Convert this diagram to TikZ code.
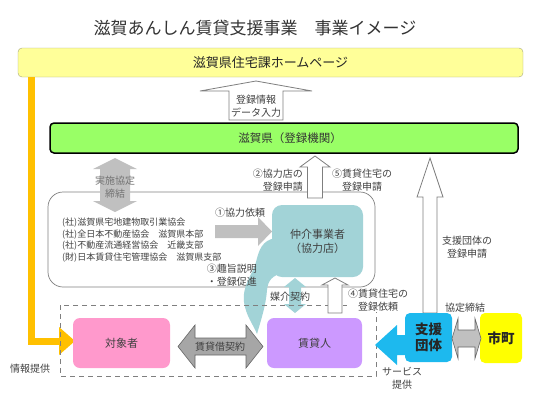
\documentclass[tikz,border=0pt]{standalone}
\usepackage{fontspec}
\setmainfont{Noto Sans CJK JP}
\definecolor{hpyellow}{HTML}{FFFF99}
\definecolor{hpborder}{HTML}{A6A67A}
\definecolor{infoorange}{HTML}{FFC000}
\definecolor{prefgreen}{HTML}{99FF66}
\definecolor{tealbox}{HTML}{A2D3D7}
\definecolor{pinkbox}{HTML}{FF99CC}
\definecolor{purplebox}{HTML}{CC99FF}
\definecolor{cyanbox}{HTML}{1DB9EE}
\definecolor{citybox}{HTML}{FFFF00}
\definecolor{txt}{HTML}{404040}
\definecolor{arrowgray}{HTML}{C0C0C0}
\definecolor{darkarrowgray}{HTML}{A6A6A6}
\definecolor{outlinegray}{HTML}{7F7F7F}
% #1 style, #2 cx, #3 ybottom, #4 ytip, #5 shaft half, #6 head half, #7 head length
\newcommand\myUpArrow[7]{%
  \path[#1] ({#2-#5},#3) -- ({#2-#5},{#4+#7}) -- ({#2-#6},{#4+#7}) -- (#2,#4)
    -- ({#2+#6},{#4+#7}) -- ({#2+#5},{#4+#7}) -- ({#2+#5},#3) -- cycle;}
% #1 style, #2 cx, #3 ytop, #4 ybottom, #5 shaft half, #6 head half, #7 head length
\newcommand\myVDouble[7]{%
  \path[#1] (#2,#3) -- ({#2+#6},{#3+#7}) -- ({#2+#5},{#3+#7}) -- ({#2+#5},{#4-#7})
    -- ({#2+#6},{#4-#7}) -- (#2,#4) -- ({#2-#6},{#4-#7}) -- ({#2-#5},{#4-#7})
    -- ({#2-#5},{#3+#7}) -- ({#2-#6},{#3+#7}) -- cycle;}
% #1 style, #2 cy, #3 xleft, #4 xright, #5 shaft half, #6 head half, #7 head length
\newcommand\myHDouble[7]{%
  \path[#1] (#3,#2) -- ({#3+#7},{#2-#6}) -- ({#3+#7},{#2-#5}) -- ({#4-#7},{#2-#5})
    -- ({#4-#7},{#2-#6}) -- (#4,#2) -- ({#4-#7},{#2+#6}) -- ({#4-#7},{#2+#5})
    -- ({#3+#7},{#2+#5}) -- ({#3+#7},{#2+#6}) -- cycle;}
\begin{document}
\begin{tikzpicture}[x=1pt,y=-1pt,
  every node/.style={text=txt, inner sep=0pt},
  lbl/.style={font=\fontsize{10}{12.5}\selectfont, align=center},
  hollow/.style={draw=outlinegray, fill=white, line width=0.8pt},
  boxstyle/.style={rounded corners=7pt, font=\fontsize{11}{13}\selectfont}]
\useasboundingbox (0,0) rectangle (533,400);

% title
\node[font=\fontsize{17}{20}\selectfont, text=black!80] (title) at (255,28)
  {滋賀あんしん賃貸支援事業　事業イメージ};

% homepage bar
\node[draw=hpborder, fill=hpyellow, rounded corners=4pt, minimum width=505pt,
  minimum height=29pt, font=\fontsize{13}{15}\selectfont, text=black!85]
  (hp) at (270.5,62.5) {滋賀県住宅課ホームページ};

% orange information line
\coordinate (infoStart) at (31,77);
\coordinate (infoBend) at (31,341);
\coordinate (infoEnd) at (61,341);
\draw[infoorange, line width=7pt] (infoStart) -- (infoBend) -- (infoEnd);
\fill[infoorange] (59,327) -- (75,341) -- (59,355) -- cycle;
\node[lbl] (infolbl) at (30,369) {情報提供};

% prefecture box
\node[draw=black, line width=1.5pt, fill=prefgreen, rounded corners=4pt,
  minimum width=468pt, minimum height=30pt, font=\fontsize{11.5}{13}\selectfont,
  text=black!80] (pref) at (284,138) {\hspace{12pt}滋賀県（登録機関）};

% data input arrow
\myUpArrow{hollow}{256}{120}{81}{27}{56}{10}
\node[lbl] (datalbl) at (256,106) {登録情報\\データ入力};

% association box
\node[draw=outlinegray, line width=0.7pt, rounded corners=15pt,
  minimum width=327pt, minimum height=95pt] (assoc) at (211.5,239.5) {};
\node[anchor=west, font=\fontsize{9}{11.4}\selectfont, align=left] (assoclist) at (62,240)
  {(社)滋賀県宅地建物取引業協会\\(社)全日本不動産協会　滋賀県本部\\
   (社)不動産流通経営協会　近畿支部\\(財)日本賃貸住宅管理協会　滋賀県支部};

% agreement double arrow
\myVDouble{fill=arrowgray}{115}{158}{212}{15}{22}{11}
\node[lbl, text=black!55] (agreelbl) at (115,187) {実施協定\\締結};

% request arrow 1
\fill[arrowgray] (215,225) -- (258,225) -- (258,217) -- (272,231.5) -- (258,246)
  -- (258,238) -- (215,238) -- cycle;
\node[lbl] (req1) at (240,213) {①協力依頼};

% broker box with tail
\fill[tealbox] (276,238) .. controls (262,240) and (259,250) .. (256,262)
  .. controls (253,274) and (242,285) .. (244,302)
  .. controls (246,316) and (253,324) .. (257,334)
  .. controls (261,320) and (266,305) .. (267,290)
  .. controls (268,280) and (272,276) .. (284,272) -- cycle;
\node[fill=tealbox, rounded corners=10pt, minimum width=91pt, minimum height=72pt,
  font=\fontsize{11}{14}\selectfont, align=center] (broker) at (317.5,241)
  {仲介事業者\\（協力店）};
\node[lbl, align=right, anchor=east] (expl) at (257,275) {③趣旨説明\\・登録促進};

% mediation double arrow
\myVDouble{fill=tealbox}{295}{278}{313}{6}{11}{9}

% dashed area
\draw[outlinegray, line width=0.8pt, dash pattern=on 5pt off 4pt] (60,305) rectangle (376,376);
\node[lbl] (medlbl) at (290,297) {媒介契約};

% registration arrows 2 / 5
\myUpArrow{hollow}{315}{198}{156}{7.5}{15}{11}
\node[lbl, align=right, anchor=east] (reg2) at (303,180) {②協力店の\\登録申請};
\node[lbl] (reg5) at (362,180) {⑤賃貸住宅の\\登録申請};

% registration arrow 4
\myUpArrow{hollow}{335}{313}{278}{7}{13}{7}
\node[lbl, fill=white, inner sep=1pt] (reg4) at (378,300) {④賃貸住宅の\\登録依頼};

% support registration arrow
\myUpArrow{hollow}{430}{313}{158}{7}{13}{39}
\node[lbl] (supreg) at (467,247) {支援団体の\\登録申請};

% parties
\node[fill=pinkbox, boxstyle, minimum width=97pt, minimum height=50pt] (target) at (121.5,343) {対象者};
\node[fill=purplebox, boxstyle, minimum width=95pt, minimum height=50pt] (landlord) at (314.5,343) {賃貸人};

% lease double arrow
\myHDouble{fill=darkarrowgray, draw=black!60, line width=0.6pt}{346.5}{178}{263}{8.5}{21.5}{17}
\node[lbl] (leaselbl) at (220,346.5) {賃貸借契約};

% support body
\node[fill=cyanbox, rounded corners=5pt, minimum width=47pt, minimum height=49pt,
  font=\bfseries\fontsize{13.5}{16}\selectfont, text=black!85, align=center] (support) at (428.5,337.5) {支援\\団体};
\fill[cyanbox] (support.west |- 0,335) -- (397,335) -- (397,325) -- (375,345)
  -- (397,365) -- (397,355) -- (support.west |- 0,355) -- cycle;
\node[lbl] (servlbl) at (402,378.5) {サービス\\提供};

% city
\node[fill=citybox, rounded corners=5pt, minimum width=42pt, minimum height=50pt,
  font=\bfseries\fontsize{13.5}{16}\selectfont, text=black!85] (city) at (501,338) {市町};
\myHDouble{fill=arrowgray, draw=black!60, line width=0.6pt}{338.5}{452}{481}{8.5}{20}{6}
\node[lbl] (citylbl) at (465,308) {協定締結};
\end{tikzpicture}
\end{document}
